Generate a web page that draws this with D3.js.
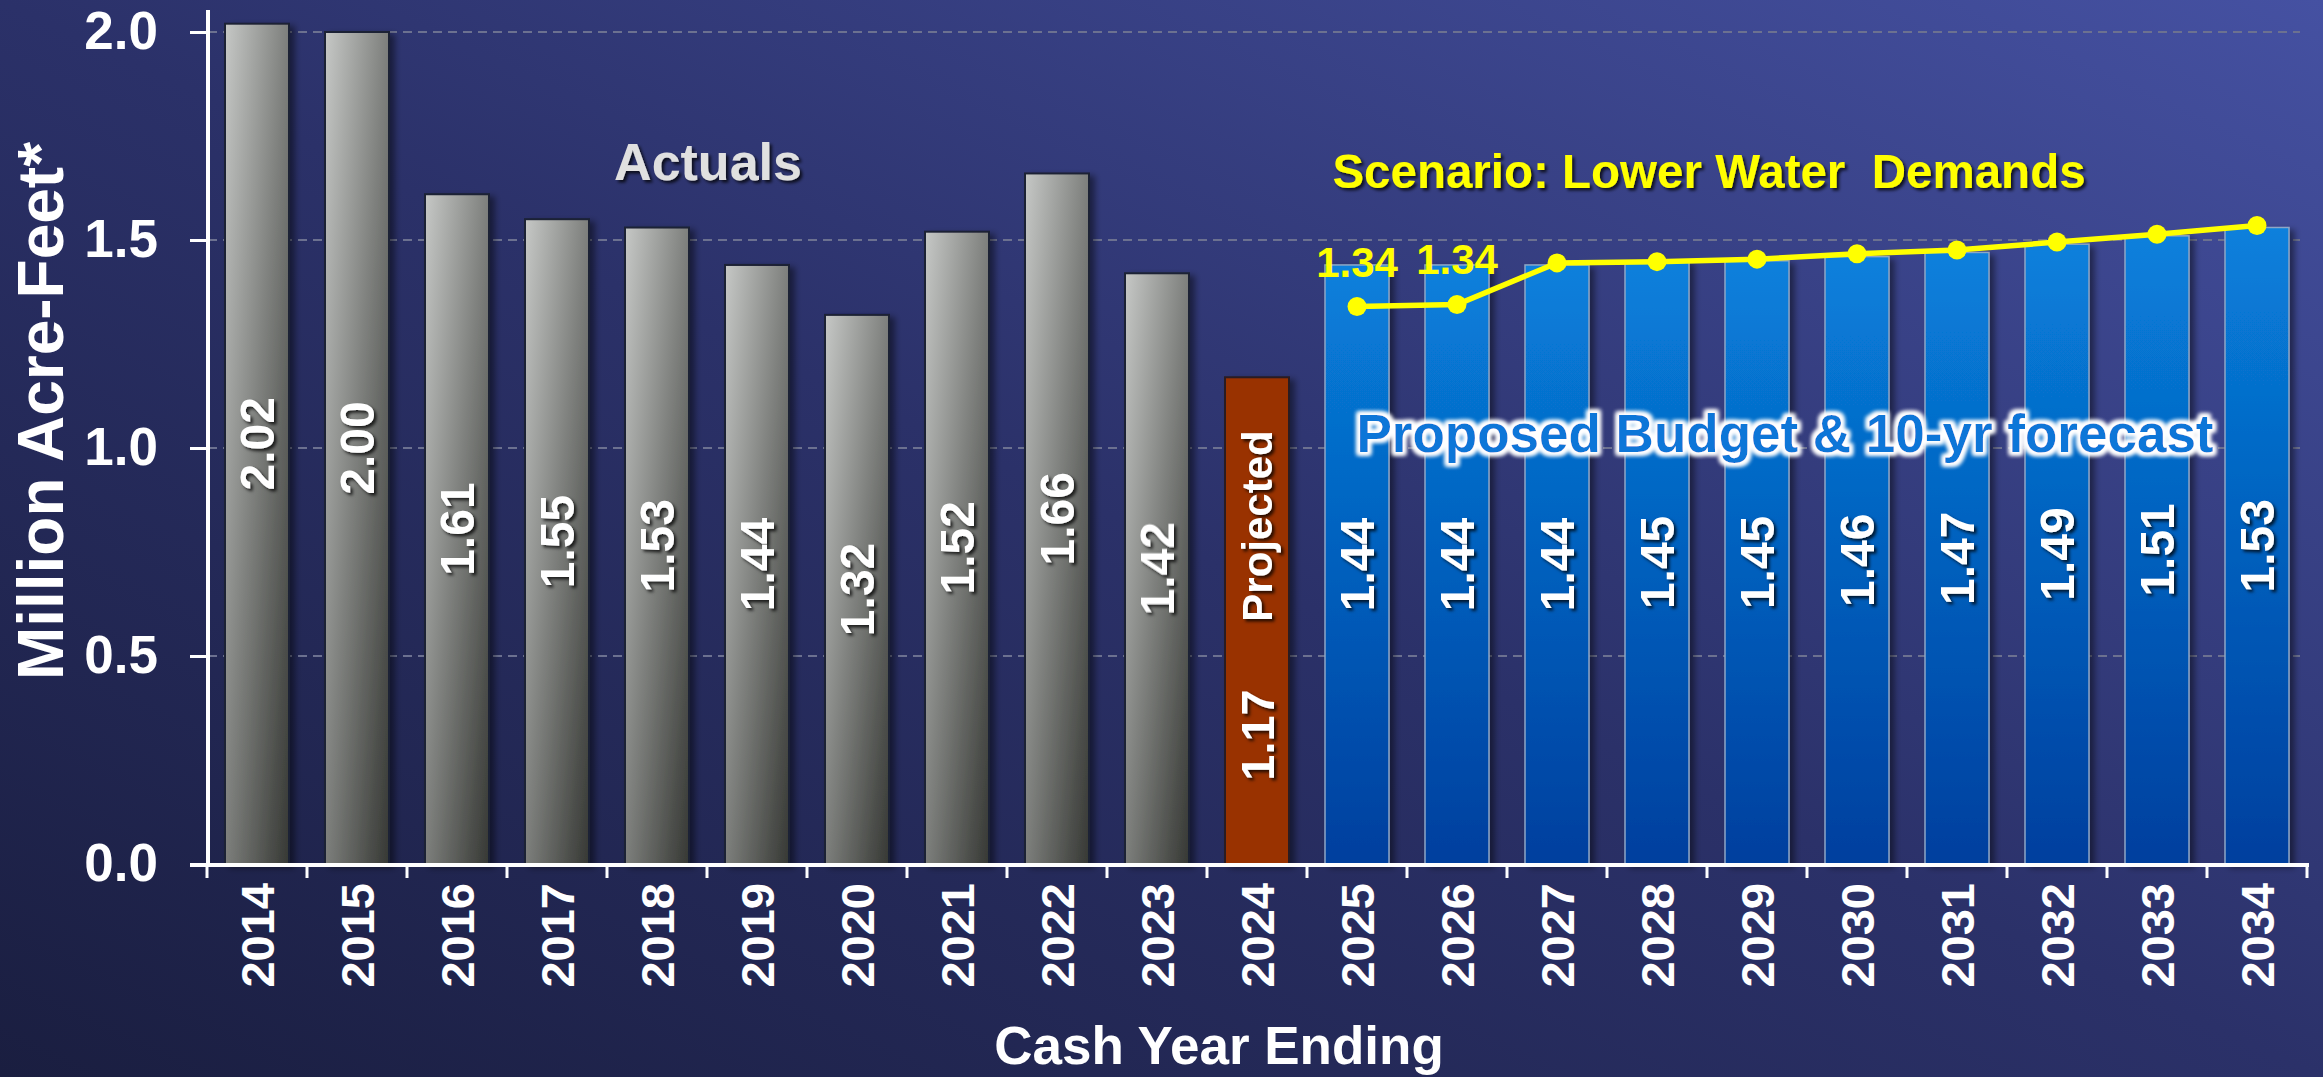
<!DOCTYPE html>
<html>
<head>
<meta charset="utf-8">
<script src="https://cdn.jsdelivr.net/npm/d3@7"></script>
<style>
  body { margin: 0; background: #1b1f42; }
  svg { display: block; font-family: "Liberation Sans", Arial, sans-serif; font-weight: bold; }
</style>
</head>
<body>
<svg id="chart" width="2323" height="1077"></svg>
<script>
// chart values
var years = ["2014","2015","2016","2017","2018","2019","2020","2021","2022","2023",
             "2024","2025","2026","2027","2028","2029","2030","2031","2032","2033","2034"];
var actualYears = ["2014","2015","2016","2017","2018","2019","2020","2021","2022","2023"];
var actualValues = [2.02, 2.00, 1.61, 1.55, 1.53, 1.44, 1.32, 1.52, 1.66, 1.42];
var projectedYears = ["2024"];
var projectedValues = [1.17];
var budgetYears = ["2025","2026","2027","2028","2029","2030","2031","2032","2033","2034"];
var budgetValues = [1.44, 1.44, 1.44, 1.45, 1.45, 1.46, 1.47, 1.49, 1.51, 1.53];
var scenarioValues = [1.34, 1.345, 1.445, 1.448, 1.454, 1.467, 1.476, 1.495, 1.514, 1.535];
var scenarioLabels = ["1.34", "1.34", "", "", "", "", "", "", "", ""];
var yTicks = [0, 0.5, 1.0, 1.5, 2.0];

var svg = d3.select("#chart");
var W = 2323, H = 1077;
var defs = svg.append("defs");

function lin(id, x1, y1, x2, y2, stops) {
	var g = defs.append("linearGradient").attr("id", id)
		.attr("x1", x1).attr("y1", y1).attr("x2", x2).attr("y2", y2);
	stops.forEach(function(s) { g.append("stop").attr("offset", s[0]).attr("stop-color", s[1]); });
}
lin("bg", 1, 0, 0, 1, [[0, "#4551a2"], [0.5, "#2b3169"], [1, "#1a1e40"]]);
lin("grey", 0, 0, 1, 1, [[0, "#c6c8c6"], [0.5, "#7d7f7c"], [1, "#363834"]]);
lin("blue", 0, 0, 0, 1, [[0, "#0880dc"], [1, "#003f9e"]]);

var f = defs.append("filter").attr("id", "barShadow").attr("x", "-20%").attr("y", "-5%").attr("width", "160%").attr("height", "115%");
f.append("feDropShadow").attr("dx", 5).attr("dy", 3).attr("stdDeviation", 3)
	.attr("flood-color", "#000").attr("flood-opacity", 0.45);

f = defs.append("filter").attr("id", "txtShadow").attr("x", "-10%").attr("y", "-10%").attr("width", "130%").attr("height", "130%");
f.append("feDropShadow").attr("dx", 2.5).attr("dy", 2.5).attr("stdDeviation", 1.5)
	.attr("flood-color", "#000").attr("flood-opacity", 0.75);

f = defs.append("filter").attr("id", "glow").attr("x", "-10%").attr("y", "-30%").attr("width", "120%").attr("height", "160%");
f.append("feMorphology").attr("in", "SourceAlpha").attr("operator", "dilate").attr("radius", 3).attr("result", "d");
f.append("feGaussianBlur").attr("in", "d").attr("stdDeviation", 2).attr("result", "b");
f.append("feFlood").attr("flood-color", "#fff").attr("result", "w");
f.append("feComposite").attr("in", "w").attr("in2", "b").attr("operator", "in").attr("result", "wb");
var m = f.append("feMerge");
m.append("feMergeNode").attr("in", "wb");
m.append("feMergeNode").attr("in", "wb");
m.append("feMergeNode").attr("in", "SourceGraphic");

svg.append("rect").attr("width", W).attr("height", H).attr("fill", "url(#bg)");

var x = d3.scaleBand().domain(years).range([207, 2307]).paddingInner(0.36).paddingOuter(0.18);
var y = d3.scaleLinear().domain([0, 2]).range([864, 32]);

// dashed grid
svg.append("g").selectAll("line").data(yTicks.filter(function(d) { return d > 0; }))
	.enter().append("line")
	.attr("x1", 208).attr("x2", 2300)
	.attr("y1", function(d) { return y(d); }).attr("y2", function(d) { return y(d); })
	.attr("stroke", "#6c7190").attr("stroke-width", 2).attr("stroke-dasharray", "9,6");

function bars(cls, ys, vs, fill, stroke, sw) {
	svg.append("g").attr("filter", "url(#barShadow)")
		.selectAll("rect").data(ys).enter().append("rect")
		.attr("class", cls)
		.attr("x", function(d) { return x(d); })
		.attr("width", x.bandwidth())
		.attr("y", function(d, i) { return y(vs[i]); })
		.attr("height", function(d, i) { return y(0) - y(vs[i]); })
		.attr("fill", fill).attr("stroke", stroke).attr("stroke-width", sw);
}
bars("actual", actualYears, actualValues, "url(#grey)", "#1c2034", 2);
bars("projected", projectedYears, projectedValues, "#993300", "#2a1a20", 2);
bars("budget", budgetYears, budgetValues, "url(#blue)", "#8ea6c6", 1.5);

// axes
var xAxis = svg.append("g").attr("transform", "translate(0,865)")
	.call(d3.axisBottom(x).tickSize(0).tickFormat(""));
xAxis.select(".domain").remove();
xAxis.append("line").attr("x1", 190).attr("x2", 2309).attr("stroke", "#fff").attr("stroke-width", 4);
xAxis.selectAll("line.tk").data(d3.range(years.length + 1)).enter().append("line").attr("class", "tk")
	.attr("x1", function(i) { return 207 + i * x.step(); })
	.attr("x2", function(i) { return 207 + i * x.step(); })
	.attr("y1", 0).attr("y2", 13).attr("stroke", "#fff").attr("stroke-width", 3);
xAxis.selectAll("text.yr").data(years).enter().append("text").attr("class", "yr")
	.attr("transform", function(d) { return "translate(" + (x(d) + x.bandwidth() / 2) + ",18) rotate(-90)"; })
	.attr("text-anchor", "end").attr("dy", "0.36em")
	.attr("fill", "#fff").attr("font-size", 47).text(function(d) { return d; });

var yAxis = svg.append("g").attr("transform", "translate(208,0)")
	.call(d3.axisLeft(y).tickValues(yTicks).tickSize(18).tickPadding(32).tickFormat(d3.format(".1f")));
yAxis.select(".domain").attr("d", "M0,10V865").attr("stroke", "#fff").attr("stroke-width", 4);
yAxis.selectAll(".tick line").attr("stroke", "#fff").attr("stroke-width", 3);
yAxis.selectAll(".tick text").attr("fill", "#fff").attr("font-size", 53)
	.attr("font-family", "'Liberation Sans', Arial, sans-serif").attr("font-weight", "bold");

svg.append("text").attr("transform", "translate(40,411) rotate(-90)")
	.attr("text-anchor", "middle").attr("dy", "0.36em")
	.attr("fill", "#fff").attr("font-size", 64).text("Million Acre-Feet*");
svg.append("text").attr("x", 1219).attr("y", 1064)
	.attr("text-anchor", "middle").attr("fill", "#fff").attr("font-size", 53).text("Cash Year Ending");

// value labels inside bars
var lbl = svg.append("g").attr("filter", "url(#txtShadow)").attr("fill", "#fff");
var allYears = actualYears.concat(budgetYears);
var allVals = actualValues.concat(budgetValues);
lbl.selectAll("text.val").data(allYears).enter().append("text").attr("class", "val")
	.attr("transform", function(d, i) {
		return "translate(" + (x(d) + x.bandwidth() / 2) + "," + y(allVals[i] / 2) + ") rotate(-90)";
	})
	.attr("text-anchor", "middle").attr("dy", "0.36em").attr("font-size", 48)
	.text(function(d, i) { return allVals[i].toFixed(2); });
lbl.selectAll("text.proj").data(projectedYears).enter().append("text").attr("class", "proj")
	.attr("transform", function(d) { return "translate(" + (x(d) + x.bandwidth() / 2) + ",735) rotate(-90)"; })
	.attr("text-anchor", "middle").attr("dy", "0.36em").attr("font-size", 47)
	.text(function(d, i) { return projectedValues[i].toFixed(2); });
lbl.selectAll("text.projname").data(projectedYears).enter().append("text").attr("class", "projname")
	.attr("transform", function(d) { return "translate(" + (x(d) + x.bandwidth() / 2) + ",526) rotate(-90)"; })
	.attr("text-anchor", "middle").attr("dy", "0.36em").attr("font-size", 42)
	.text("Projected");

// annotations
var ann = svg.append("g").attr("filter", "url(#txtShadow)");
ann.append("text").attr("x", 708).attr("y", 180).attr("text-anchor", "middle")
	.attr("fill", "#e0e0e0").attr("font-size", 52).text("Actuals");
ann.append("text").attr("x", 1709).attr("y", 188).attr("text-anchor", "middle")
	.attr("fill", "#ffff00").attr("font-size", 47.5).attr("xml:space", "preserve")
	.text("Scenario: Lower Water  Demands");
svg.append("text").attr("x", 1785).attr("y", 452).attr("text-anchor", "middle")
	.attr("fill", "#0876d8").attr("font-size", 53).attr("filter", "url(#glow)")
	.text("Proposed Budget & 10-yr forecast");

// scenario line
var line = d3.line()
	.x(function(d) { return x(d) + x.bandwidth() / 2; })
	.y(function(d, i) { return y(scenarioValues[i]); });
svg.append("path").datum(budgetYears).attr("d", line)
	.attr("fill", "none").attr("stroke", "#ffff00").attr("stroke-width", 5.5);
svg.append("g").selectAll("circle").data(budgetYears).enter().append("circle")
	.attr("cx", function(d) { return x(d) + x.bandwidth() / 2; })
	.attr("cy", function(d, i) { return y(scenarioValues[i]); })
	.attr("r", 9.5).attr("fill", "#ffff00");
svg.append("g").selectAll("text").data(budgetYears).enter().append("text")
	.attr("x", function(d) { return x(d) + x.bandwidth() / 2; })
	.attr("y", function(d, i) { return y(scenarioValues[i]) - 30; })
	.attr("text-anchor", "middle").attr("fill", "#ffff00").attr("font-size", 42)
	.text(function(d, i) { return scenarioLabels[i]; });
</script>
</body>
</html>
